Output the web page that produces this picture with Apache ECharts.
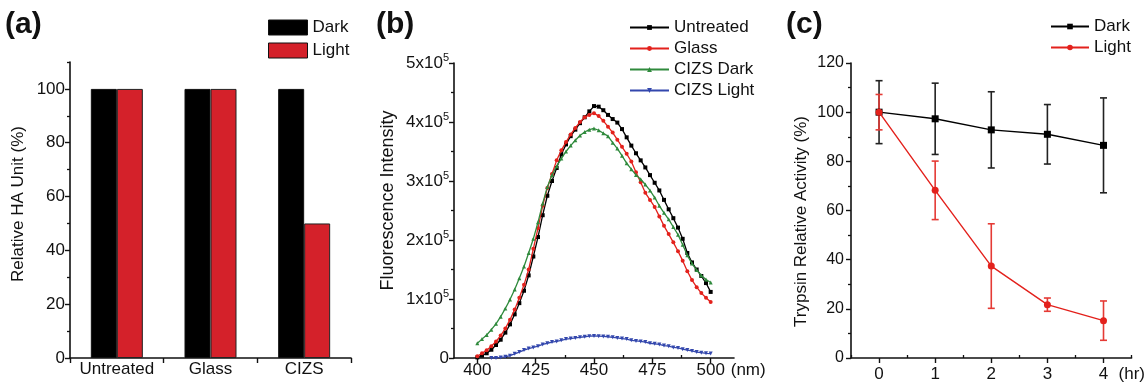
<!DOCTYPE html>
<html><head><meta charset="utf-8">
<script src="https://cdn.jsdelivr.net/npm/echarts@6/dist/echarts.min.js"></script>
<style>html,body{margin:0;padding:0;background:#fff}#c{width:1148px;height:383px}</style>
</head><body><div id="c"></div>
<script>
// ---------- Panel (a) ----------
const haCategories = ['Untreated', 'Glass', 'CIZS'];
const haDark = [100, 100, 100];
const haLight = [100, 100, 50];
const haTicks = [0, 20, 40, 60, 80, 100];
const haMinorTicks = [10, 30, 50, 70, 90, 110];

// ---------- Panel (b) ---------- (intensity in units of 1x10^5)
const wavelengths = [400,402,404,406,408,410,412,414,416,418,420,422,424,426,428,430,432,434,436,438,440,442,444,446,448,450,452,454,456,458,460,462,464,466,468,470,472,474,476,478,480,482,484,486,488,490,492,494,496,498,500];
const untreated = [0.01,0.04,0.08,0.14,0.22,0.31,0.43,0.57,0.74,0.93,1.14,1.40,1.72,2.05,2.42,2.75,3.00,3.22,3.45,3.62,3.76,3.87,3.98,4.08,4.18,4.27,4.26,4.20,4.12,4.05,3.99,3.88,3.74,3.60,3.47,3.35,3.23,3.10,2.97,2.84,2.68,2.52,2.37,2.21,2.02,1.78,1.62,1.50,1.39,1.27,1.12];
const glass = [0.03,0.08,0.13,0.20,0.28,0.38,0.50,0.65,0.82,1.02,1.24,1.50,1.85,2.20,2.58,2.88,3.12,3.35,3.52,3.66,3.79,3.90,4.00,4.08,4.12,4.15,4.10,4.02,3.92,3.82,3.70,3.58,3.46,3.33,3.15,2.98,2.80,2.68,2.56,2.40,2.24,2.10,1.96,1.81,1.65,1.47,1.32,1.20,1.10,1.02,0.95];
const cizsDark = [0.25,0.32,0.39,0.48,0.58,0.70,0.84,0.99,1.16,1.35,1.55,1.78,2.02,2.30,2.62,2.90,3.10,3.25,3.38,3.50,3.60,3.69,3.77,3.83,3.87,3.89,3.86,3.81,3.76,3.65,3.55,3.43,3.30,3.20,3.10,3.03,2.94,2.84,2.72,2.58,2.46,2.35,2.22,2.09,1.92,1.74,1.60,1.49,1.40,1.33,1.28];
const cizsLight = [null,null,null,0.00,0.00,0.01,0.02,0.04,0.07,0.10,0.135,0.16,0.18,0.20,0.23,0.25,0.27,0.28,0.30,0.32,0.33,0.34,0.35,0.36,0.37,0.375,0.37,0.365,0.36,0.35,0.34,0.33,0.32,0.30,0.29,0.28,0.27,0.25,0.24,0.23,0.21,0.20,0.18,0.17,0.15,0.135,0.12,0.10,0.09,0.08,0.075];
const flXTicks = [400, 425, 450, 475, 500];
const flXMinorTicks = [412.5, 437.5, 462.5, 487.5];

// ---------- Panel (c) ----------
const hours = [0, 1, 2, 3, 4];
const trypsinDark = [100, 97.3, 92.8, 91.0, 86.5];
const trypsinDarkErr = [12.8, 14.5, 15.5, 12.1, 19.3];
const trypsinLight = [100, 68.2, 37.4, 21.7, 15.2];
const trypsinLightErr = [7.2, 11.9, 17.2, 2.7, 8.0];
const hourTicks = [0, 1, 2, 3, 4];
const hourMinorTicks = [-0.5, 0.5, 1.5, 2.5, 3.5, 4.5];

const FONT = 'Liberation Sans, Arial, Helvetica, sans-serif';
const TXT = '#111';
const AX = {lineStyle: {color: '#111', width: 1.6}};

function pairs(xs, ys) { return xs.map((x, i) => [x, ys[i]]); }
function errData(xs, v, e) { return xs.map((x, i) => [x, v[i] - e[i], v[i] + e[i]]); }
function errRender(color) {
  return function (params, api) {
    const x = api.value(0), lo = api.value(1), hi = api.value(2);
    const a = api.coord([x, hi]), b = api.coord([x, lo]);
    const cap = 3.5;
    const style = {stroke: color, lineWidth: 1.6};
    return {type: 'group', children: [
      {type: 'line', shape: {x1: a[0], y1: a[1], x2: b[0], y2: b[1]}, style: style},
      {type: 'line', shape: {x1: a[0] - cap, y1: a[1], x2: a[0] + cap, y2: a[1]}, style: style},
      {type: 'line', shape: {x1: b[0] - cap, y1: b[1], x2: b[0] + cap, y2: b[1]}, style: style}
    ]};
  };
}
function minorAxis(extra) {
  return Object.assign({
    type: 'value', axisLine: {show: false}, axisLabel: {show: false},
    splitLine: {show: false}, axisTick: {show: true, length: 3, lineStyle: {color: '#111', width: 1.3}}
  }, extra);
}

const chart = echarts.init(document.getElementById('c'), null, {renderer: 'canvas'});
chart.setOption({
  animation: false,
  backgroundColor: '#fff',
  textStyle: {fontFamily: FONT, color: TXT},
  title: [
    {text: '(a)', left: 5, top: 10, padding: 0, textStyle: {fontSize: 30, fontWeight: 'bold', color: TXT, fontFamily: FONT}},
    {text: '(b)', left: 376, top: 10, padding: 0, textStyle: {fontSize: 30, fontWeight: 'bold', color: TXT, fontFamily: FONT}},
    {text: '(c)', left: 786, top: 10, padding: 0, textStyle: {fontSize: 30, fontWeight: 'bold', color: TXT, fontFamily: FONT}}
  ],
  legend: [
    {data: ['Dark', 'Light'], orient: 'vertical', left: 268, top: 19, padding: 0, icon: 'rect',
     itemWidth: 39, itemHeight: 15, itemGap: 6, textStyle: {fontSize: 17, color: TXT}, itemStyle: {borderColor: '#111', borderWidth: 1}},
    {data: ['Untreated', 'Glass', 'CIZS Dark', 'CIZS Light'], orient: 'vertical', left: 629, top: 19, padding: 0,
     itemWidth: 39, itemHeight: 6, itemGap: 4, textStyle: {fontSize: 17, color: TXT}},
    {data: ['c:Dark', 'c:Light'], orient: 'vertical', left: 1050, top: 18, padding: 0,
     itemWidth: 38, itemHeight: 7, itemGap: 4, textStyle: {fontSize: 17, color: TXT},
     formatter: n => n.replace(/^c:/, '')}
  ],
  grid: [
    {left: 70, width: 281, top: 62, bottom: 25},
    {left: 454, width: 280, top: 63, bottom: 25},
    {left: 851, width: 282, top: 63, bottom: 25}
  ],
  xAxis: [
    {gridIndex: 0, type: 'category', data: haCategories, axisLine: AX,
     axisTick: {show: true, length: 5, lineStyle: {color: '#111', width: 1.4}},
     axisLabel: {fontSize: 17, color: TXT, margin: 3, interval: 0}},
    {gridIndex: 1, type: 'value', min: 390, max: 510, axisLine: Object.assign({onZero: false}, AX), splitLine: {show: false},
     axisTick: {show: true, length: 5, customValues: flXTicks, lineStyle: {color: '#111', width: 1.4}},
     axisLabel: {fontSize: 17, color: TXT, margin: 4, customValues: flXTicks},
     name: '(nm)', nameLocation: 'end', nameGap: -4,
     nameTextStyle: {fontSize: 17, color: TXT, verticalAlign: 'top', padding: [4, 0, 0, 0]}},
    minorAxis({gridIndex: 1, min: 390, max: 510, axisTick: {show: true, length: 3, customValues: flXMinorTicks, lineStyle: {color: '#111', width: 1.3}}}),
    {gridIndex: 2, type: 'value', min: -0.5, max: 4.5, axisLine: Object.assign({onZero: false}, AX), splitLine: {show: false},
     axisTick: {show: true, length: 5, customValues: hourTicks, lineStyle: {color: '#111', width: 1.4}},
     axisLabel: {fontSize: 17, color: TXT, margin: 8, customValues: hourTicks},
     name: '(hr)', nameLocation: 'end', nameGap: -13,
     nameTextStyle: {fontSize: 17, color: TXT, verticalAlign: 'top', padding: [8, 0, 0, 0]}},
    minorAxis({gridIndex: 2, min: -0.5, max: 4.5, axisTick: {show: true, length: 3, customValues: hourMinorTicks, lineStyle: {color: '#111', width: 1.3}}})
  ],
  yAxis: [
    {gridIndex: 0, type: 'value', min: 0, max: 110, axisLine: Object.assign({show: true, onZero: false}, AX), splitLine: {show: false},
     axisTick: {show: true, length: 5, customValues: haTicks, lineStyle: {color: '#111', width: 1.4}},
     axisLabel: {fontSize: 17, color: TXT, margin: 5, customValues: haTicks},
     name: 'Relative HA Unit (%)', nameLocation: 'middle', nameGap: 43,
     nameTextStyle: {fontSize: 17, color: TXT, padding: [0, 0, 0, 12]}},
    minorAxis({gridIndex: 0, min: 0, max: 110, position: 'left', axisTick: {show: true, length: 3, customValues: haMinorTicks, lineStyle: {color: '#111', width: 1.3}}}),
    {gridIndex: 1, type: 'value', min: 0, max: 5, interval: 1, axisLine: Object.assign({show: true, onZero: false}, AX), splitLine: {show: false},
     axisTick: {show: true, length: 5, lineStyle: {color: '#111', width: 1.4}},
     minorTick: {show: true, splitNumber: 2, length: 3, lineStyle: {color: '#111', width: 1.3}},
     axisLabel: {color: TXT, margin: 5,
       formatter: v => v === 0 ? '{m|0}' : '{m|' + v + 'x10}{s|5}',
       rich: {m: {fontSize: 17, color: TXT, fontFamily: FONT}, s: {fontSize: 11, color: TXT, fontFamily: FONT, padding: [0, 0, 10, 0]}}},
     name: 'Fluorescence Intensity', nameLocation: 'middle', nameGap: 57,
     nameTextStyle: {fontSize: 18, color: TXT, padding: [0, 0, 0, 20]}},
    {gridIndex: 2, type: 'value', min: 0, max: 120, interval: 20, axisLine: Object.assign({show: true, onZero: false}, AX), splitLine: {show: false},
     axisTick: {show: true, length: 5, lineStyle: {color: '#111', width: 1.4}},
     minorTick: {show: true, splitNumber: 2, length: 3, lineStyle: {color: '#111', width: 1.3}},
     axisLabel: {fontSize: 16, color: TXT, margin: 7},
     name: 'Trypsin Relative Activity (%)', nameLocation: 'middle', nameGap: 41,
     nameTextStyle: {fontSize: 17, color: TXT, padding: [0, 22, 0, 0]}}
  ],
  series: [
    {name: 'Dark', type: 'bar', xAxisIndex: 0, yAxisIndex: 0, data: haDark, barWidth: 26, barGap: '0%',
     itemStyle: {color: '#000', borderColor: '#111', borderWidth: 1}},
    {name: 'Light', type: 'bar', xAxisIndex: 0, yAxisIndex: 0, data: haLight, barWidth: 26, barGap: '0%',
     itemStyle: {color: '#d4212a', borderColor: '#222', borderWidth: 1}},

    {name: 'Untreated', type: 'line', xAxisIndex: 1, yAxisIndex: 2, data: pairs(wavelengths, untreated),
     symbol: 'rect', symbolSize: 4, color: '#000', lineStyle: {width: 1.3}, z: 5},
    {name: 'Glass', type: 'line', xAxisIndex: 1, yAxisIndex: 2, data: pairs(wavelengths, glass),
     symbol: 'circle', symbolSize: 4, color: '#e3211c', lineStyle: {width: 1.3}, z: 6},
    {name: 'CIZS Dark', type: 'line', xAxisIndex: 1, yAxisIndex: 2, data: pairs(wavelengths, cizsDark),
     symbol: 'triangle', symbolSize: 4, color: '#2f8a3c', lineStyle: {width: 1.3}, z: 7},
    {name: 'CIZS Light', type: 'line', xAxisIndex: 1, yAxisIndex: 2, data: pairs(wavelengths, cizsLight),
     symbol: 'path://M0,0L10,0L5,9Z', symbolSize: 4, color: '#3347ad', lineStyle: {width: 1.3}, z: 8},

    {name: 'errDark', type: 'custom', xAxisIndex: 3, yAxisIndex: 3, data: errData(hours, trypsinDark, trypsinDarkErr),
     encode: {x: 0, y: [1, 2]}, renderItem: errRender('#222'), z: 2, silent: true},
    {name: 'errLight', type: 'custom', xAxisIndex: 3, yAxisIndex: 3, data: errData(hours, trypsinLight, trypsinLightErr),
     encode: {x: 0, y: [1, 2]}, renderItem: errRender('#e53a35'), z: 3, silent: true},
    {name: 'c:Dark', type: 'line', xAxisIndex: 3, yAxisIndex: 3, data: pairs(hours, trypsinDark),
     symbol: 'rect', symbolSize: 7, color: '#000', lineStyle: {width: 1.4}, z: 4},
    {name: 'c:Light', type: 'line', xAxisIndex: 3, yAxisIndex: 3, data: pairs(hours, trypsinLight),
     symbol: 'circle', symbolSize: 7, color: '#e3211c', lineStyle: {width: 1.4}, z: 5}
  ]
});
</script>
</body></html>
